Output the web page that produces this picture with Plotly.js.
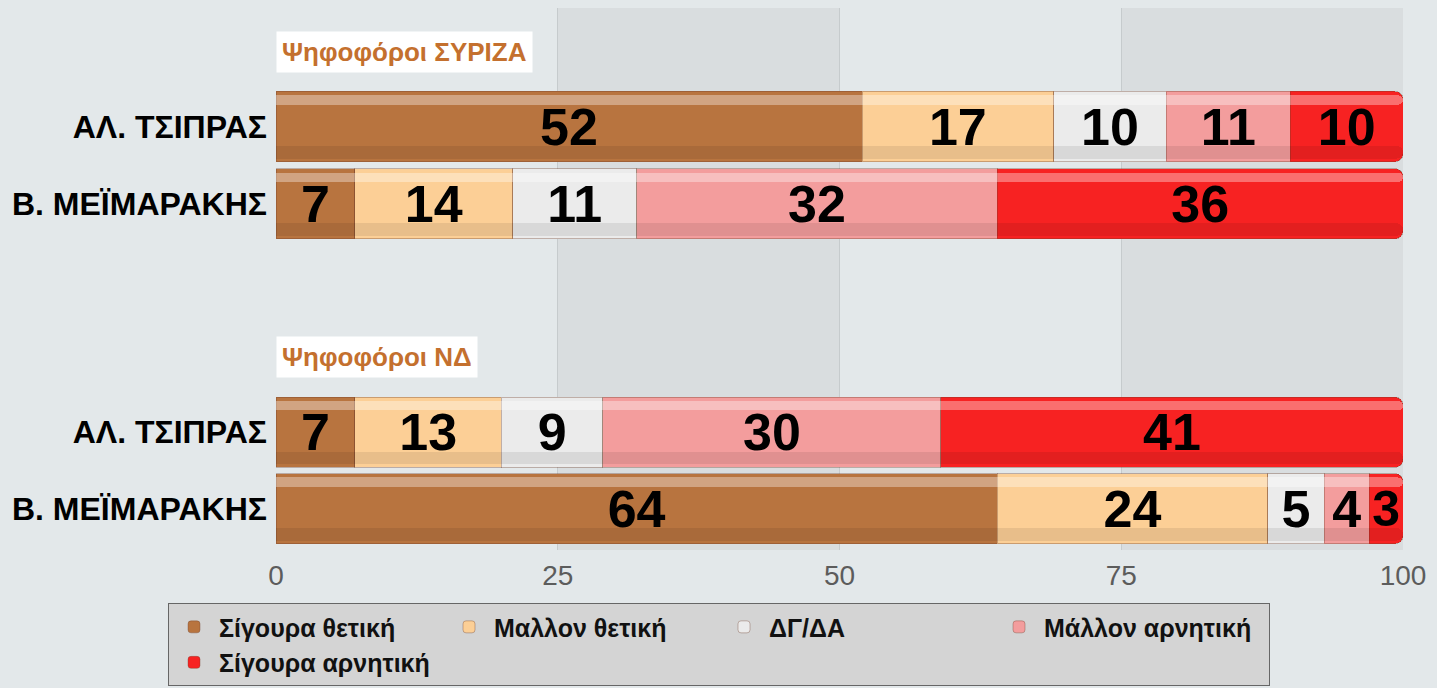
<!DOCTYPE html>
<html>
<head>
<meta charset="utf-8">
<script src="https://cdn.plot.ly/plotly-3.0.1.min.js"></script>
<style>
  html, body { margin: 0; padding: 0; background: #e3e8ea; }
  #chart { width: 1437px; height: 688px; }
</style>
</head>
<body>
<div id="chart"></div>
<script>
// rows, top to bottom
var rows = ['ΑΛ. ΤΣΙΠΡΑΣ', 'Β. ΜΕΪΜΑΡΑΚΗΣ', 'ΑΛ. ΤΣΙΠΡΑΣ', 'Β. ΜΕΪΜΑΡΑΚΗΣ'];
var groups = ['Ψηφοφόροι ΣΥΡΙΖΑ', 'Ψηφοφόροι ΝΔ'];

var series = ['Σίγουρα θετική', 'Μαλλον θετική', 'ΔΓ/ΔΑ', 'Μάλλον αρνητική', 'Σίγουρα αρνητική'];
var sigouraThetiki  = [52, 7, 7, 64];
var mallonThetiki   = [17, 14, 13, 24];
var dgda            = [10, 11, 9, 5];
var mallonArnitiki  = [11, 32, 30, 4];
var sigouraArnitiki = [10, 36, 41, 3];

var xticks = [0, 25, 50, 75, 100];

// layout stuff
var rowPos = [1.52, 2.51, 5.44, 6.42];
var groupPos = [0.56, 4.47];
var colors = ['#b8743f', '#fccf96', '#ebebeb', '#f39d9d', '#f72222'];
var font = 'Liberation Sans, Arial, sans-serif';

const myDiv = document.getElementById('chart');

var values = [sigouraThetiki, mallonThetiki, dgda, mallonArnitiki, sigouraArnitiki];
var data = [];

// main bars
for (var i = 0; i < series.length; i++) {
  data.push({
    type: 'bar',
    orientation: 'h',
    name: series[i],
    x: values[i],
    y: rowPos,
    width: 0.9,
    marker: {color: colors[i], line: {color: 'rgba(110,60,40,0.35)', width: 1}},
    texttemplate: '%{x}',
    textposition: 'inside',
    insidetextanchor: 'middle',
    textangle: 0,
    constraintext: 'none',
    insidetextfont: {family: font, size: 52, weight: 'bold', color: '#000'},
    hoverinfo: 'skip'
  });
}

// glossy highlight near the top of each bar
for (var i = 0; i < series.length; i++) {
  data.push({
    type: 'bar',
    orientation: 'h',
    x: values[i],
    y: rowPos,
    yaxis: 'y2',
    width: 0.12,
    offset: -0.40,
    marker: {color: 'rgba(255,255,255,0.35)', line: {width: 0}},
    showlegend: false,
    hoverinfo: 'skip'
  });
}

// darker lower part
for (var i = 0; i < series.length; i++) {
  data.push({
    type: 'bar',
    orientation: 'h',
    x: values[i],
    y: rowPos,
    yaxis: 'y3',
    width: 0.16,
    offset: 0.25,
    marker: {color: 'rgba(0,0,0,0.08)', line: {width: 0}},
    showlegend: false,
    hoverinfo: 'skip'
  });
}

var annotations = [];
for (var g = 0; g < groups.length; g++) {
  annotations.push({
    text: groups[g],
    x: 0, xref: 'x', xanchor: 'left',
    y: groupPos[g], yref: 'y', yanchor: 'middle',
    showarrow: false,
    bgcolor: '#ffffff',
    borderpad: 5,
    font: {family: font, size: 26, weight: 'bold', color: '#c4702e'}
  });
}

// darker background bands
var bands = [[25, 50], [75, 100]];
var shapes = bands.map(function(b) {
  return {
    type: 'rect', layer: 'below',
    xref: 'x', x0: b[0], x1: b[1],
    yref: 'paper', y0: 0, y1: 1,
    fillcolor: '#d9dddf', line: {width: 0}
  };
});

var yrange = [6.95, 0];

var layout = {
  width: 1437,
  height: 688,
  margin: {l: 276, r: 34, t: 8, b: 138, autoexpand: false},
  paper_bgcolor: '#e3e8ea',
  plot_bgcolor: '#e3e8ea',
  barmode: 'stack',
  barcornerradius: 8,
  font: {family: font},
  xaxis: {
    range: [0, 100],
    tickvals: xticks,
    showgrid: true,
    gridcolor: '#c6cbcd',
    zeroline: false,
    ticks: '',
    ticklabelstandoff: 6,
    tickfont: {family: font, size: 28, color: '#5c5c5c'},
    fixedrange: true
  },
  yaxis: {
    range: yrange,
    tickvals: rowPos,
    ticktext: rows,
    showgrid: false,
    zeroline: false,
    ticks: '',
    ticklabelstandoff: 8,
    tickfont: {family: font, size: 32, weight: 'bold', color: '#000'},
    fixedrange: true
  },
  yaxis2: {range: yrange, overlaying: 'y', visible: false, fixedrange: true},
  yaxis3: {range: yrange, overlaying: 'y', visible: false, fixedrange: true},
  shapes: shapes,
  annotations: annotations,
  showlegend: true,
  legend: {
    orientation: 'h',
    x: 0.882, xanchor: 'right',
    y: -0.098, yanchor: 'top',
    bgcolor: '#d4d4d4',
    bordercolor: '#666666',
    borderwidth: 1,
    itemwidth: 40,
    entrywidth: 220,
    entrywidthmode: 'pixels',
    traceorder: 'normal',
    font: {family: font, size: 25, weight: 'bold', color: '#111'}
  }
};

Plotly.newPlot(myDiv, data, layout, {displaylogo: false, staticPlot: true});
</script>
</body>
</html>
